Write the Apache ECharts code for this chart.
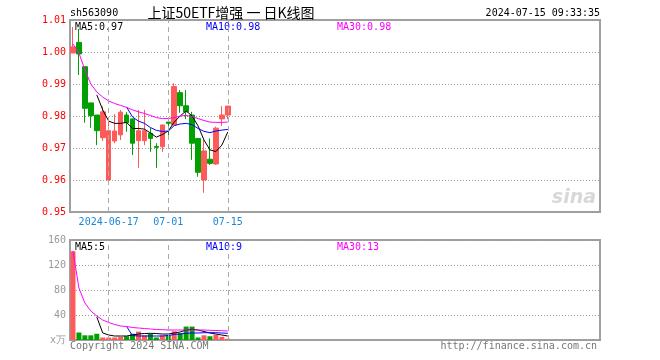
<!DOCTYPE html>
<html><head><meta charset="utf-8">
<script src="https://cdn.jsdelivr.net/npm/echarts@6/dist/echarts.min.js"></script>
<style>html,body{margin:0;padding:0;background:#fff}#c{width:660px;height:360px}</style>
</head><body><div id="c"></div>
<script>
const dates = ['2024-06-06','2024-06-07','2024-06-11','2024-06-12','2024-06-13','2024-06-14','2024-06-17','2024-06-18','2024-06-19','2024-06-20','2024-06-21','2024-06-24','2024-06-25','2024-06-26','2024-06-27','2024-06-28','2024-07-01','2024-07-02','2024-07-03','2024-07-04','2024-07-05','2024-07-08','2024-07-09','2024-07-10','2024-07-11','2024-07-12','2024-07-15'];
const openP  = [0.9997,1.0030,0.9954,0.9841,0.9803,0.9732,0.9600,0.9722,0.9741,0.9803,0.9791,0.9723,0.9723,0.9746,0.9705,0.9704,0.9781,0.9772,0.9873,0.9832,0.9803,0.9730,0.9600,0.9665,0.9650,0.9791,0.9803];
const closeP = [1.0016,0.9994,0.9824,0.9801,0.9754,0.9813,0.9754,0.9753,0.9812,0.9779,0.9715,0.9754,0.9754,0.9730,0.9702,0.9772,0.9777,0.9892,0.9832,0.9813,0.9715,0.9624,0.9691,0.9652,0.9762,0.9803,0.9831];
const lowP   = [0.9997,0.9928,0.9779,0.9763,0.9709,0.9722,0.9600,0.9715,0.9725,0.9751,0.9678,0.9638,0.9709,0.9688,0.9638,0.9688,0.9730,0.9772,0.9810,0.9790,0.9663,0.9610,0.9560,0.9647,0.9647,0.9769,0.9790];
const highP  = [1.0078,1.0072,0.9954,0.9841,0.9803,0.9830,0.9788,0.9806,0.9819,0.9812,0.9791,0.9819,0.9819,0.9763,0.9715,0.9772,0.9782,0.9902,0.9881,0.9881,0.9813,0.9730,0.9725,0.9730,0.9767,0.9831,0.9831];
const ma5  = ['-','-','-','-',0.9866,0.9819,0.9784,0.9777,0.9777,0.9780,0.9761,0.9761,0.9759,0.9747,0.9734,0.9742,0.9753,0.9781,0.9800,0.9816,0.9800,0.9769,0.9725,0.9694,0.9689,0.9709,0.9750];
const ma10 = ['-','-','-','-','-','-','-','-','-',0.9828,0.9797,0.9784,0.9777,0.9764,0.9755,0.9752,0.9753,0.9770,0.9775,0.9777,0.9773,0.9761,0.9752,0.9748,0.9753,0.9756,0.9758];
const ma30 = [1.0025,0.9997,0.9944,0.9900,0.9875,0.9859,0.9847,0.9839,0.9833,0.9827,0.9819,0.9813,0.9808,0.9802,0.9795,0.9792,0.9792,0.9795,0.9800,0.9802,0.9798,0.9792,0.9786,0.9781,0.9780,0.9780,0.9781];
const volume = [142,12,7.5,7.5,10,4,4,4,5,6,10,13.5,7.5,10,4,7.5,7.5,14,11,21.5,21.5,4,7.5,6,8.5,5,2];
const vma5  = ['-','-','-','-',36.8,11.2,8,6.4,6.4,6.4,8,9.6,10.4,10.7,10.4,9.6,9.6,11.2,12.8,16,17.1,16,13.6,11.2,9.6,8,6.4];
const vma10 = ['-','-','-','-','-','-','-','-','-',21.6,7.2,6.4,6.4,6.4,6.4,6.4,7.2,8.8,9.6,10.7,11.2,11.2,11.7,11.7,11.7,11.2,10.7];
const vma30 = [142.4,83.2,59.2,46.4,38.4,32,28,24.8,22.4,21.6,20,19.2,18.4,17.6,16.8,16.5,16,16,16,16,16,16,16,15.5,15.2,14.9,14.4];
const xTickLabels = {'2024-06-17':'2024-06-17','2024-07-01':'07-01','2024-07-15':'07-15'};
const priceTicks = {min:0.95, max:1.01, step:0.01};
const volTicks = {min:0, max:160, step:40};

const SLOTS = 89;
const cats = dates.slice();
for (let i = dates.length; i < SLOTS; i++) cats.push('pad' + i);
const RED = '#ff5a5a', GREEN = '#00a000';
const candles = dates.map((d, i) => [openP[i], closeP[i], lowP[i], highP[i]]);
const volBars = volume.map((v, i) => ({value: v, itemStyle: {color: closeP[i] >= openP[i] ? RED : GREEN}}));
const MONO = 'DejaVu Sans Mono';
const vLines = Object.keys(xTickLabels).map(k => ({xAxis: k}));
const markV = {silent: true, symbol: ['none','none'], label: {show: false},
  lineStyle: {type: [5,4], color: '#aaa', width: 1}, data: vLines, animation: false};
function line(name, data, color, xi, yi) {
  return {name, type: 'line', data, xAxisIndex: xi, yAxisIndex: yi, showSymbol: false, symbol: 'none',
    lineStyle: {color, width: 1}, itemStyle: {color}, animation: false, silent: true};
}
function txt(x, y, s, color, opt) {
  return Object.assign({type: 'text', x, y, style: Object.assign({text: s, fill: color, font: '10px ' + MONO, textVerticalAlign: 'middle'}, opt || {})}, {});
}
const chart = echarts.init(document.getElementById('c'));
chart.setOption({
  animation: false,
  grid: [
    {left: 70, top: 20, width: 530, height: 192, show: true, borderColor: '#a0a0a0', borderWidth: 2},
    {left: 70, top: 240, width: 530, height: 100, show: true, borderColor: '#a0a0a0', borderWidth: 2}
  ],
  xAxis: [
    {type: 'category', gridIndex: 0, data: cats, boundaryGap: true, axisLine: {show: false}, axisTick: {show: false},
      splitLine: {show: false},
      axisLabel: {interval: 0, margin: 5, color: '#1a88d8', fontFamily: MONO, fontSize: 10,
        formatter: v => xTickLabels[v] || ''}},
    {type: 'category', gridIndex: 1, data: cats, boundaryGap: true, axisLine: {show: false}, axisTick: {show: false},
      splitLine: {show: false}, axisLabel: {show: false}}
  ],
  yAxis: [
    {type: 'value', gridIndex: 0, min: priceTicks.min, max: priceTicks.max, interval: priceTicks.step,
      axisLine: {show: false}, axisTick: {show: false},
      splitLine: {show: true, lineStyle: {type: [1,2], color: '#999'}},
      axisLabel: {color: '#ff0000', fontFamily: MONO, fontSize: 10, margin: 4, formatter: v => v.toFixed(2)}},
    {type: 'value', gridIndex: 1, min: volTicks.min, max: volTicks.max, interval: volTicks.step,
      axisLine: {show: false}, axisTick: {show: false},
      splitLine: {show: true, lineStyle: {type: [1,2], color: '#999'}},
      axisLabel: {color: '#999', fontFamily: MONO, fontSize: 10, margin: 4, formatter: v => v === 0 ? 'x万' : String(v)}}
  ],
  series: [
    {type: 'candlestick', xAxisIndex: 0, yAxisIndex: 0, data: candles, barWidth: 5,
      itemStyle: {color: RED, color0: GREEN, borderColor: RED, borderColor0: GREEN, borderWidth: 1},
      markLine: markV, animation: false, silent: true},
    line('MA5', ma5, '#000000', 0, 0),
    line('MA10', ma10, '#0000ff', 0, 0),
    line('MA30', ma30, '#ff00ff', 0, 0),
    {type: 'bar', xAxisIndex: 1, yAxisIndex: 1, data: volBars, barWidth: 5, markLine: markV, animation: false, silent: true},
    line('VMA5', vma5, '#000000', 1, 1),
    line('VMA10', vma10, '#0000ff', 1, 1),
    line('VMA30', vma30, '#ff00ff', 1, 1)
  ],
  graphic: [
    txt(70, 13, 'sh563090', '#000'),
    {type: 'text', x: 231, y: 13, style: {text: '上证50ETF增强 一 日K线图', fill: '#000', font: '14px "Noto Sans CJK SC"', textAlign: 'center', textVerticalAlign: 'middle'}},
    txt(600, 13, '2024-07-15 09:33:35', '#000', {textAlign: 'right'}),
    txt(75, 27, 'MA5:0.97', '#000'),
    txt(206, 27, 'MA10:0.98', '#0000ff'),
    txt(337, 27, 'MA30:0.98', '#ff00ff'),
    txt(75, 247, 'MA5:5', '#000'),
    txt(206, 247, 'MA10:9', '#0000ff'),
    txt(337, 247, 'MA30:13', '#ff00ff'),
    {type: 'text', x: 596, y: 198, style: {text: 'sina', fill: '#d8d8d8', font: 'italic bold 19px "DejaVu Sans"', textAlign: 'right', textVerticalAlign: 'middle'}},
    txt(70, 346, 'Copyright 2024 SINA.COM', '#777'),
    txt(597, 346, 'http://finance.sina.com.cn', '#777', {textAlign: 'right'})
  ]
});
</script></body></html>
